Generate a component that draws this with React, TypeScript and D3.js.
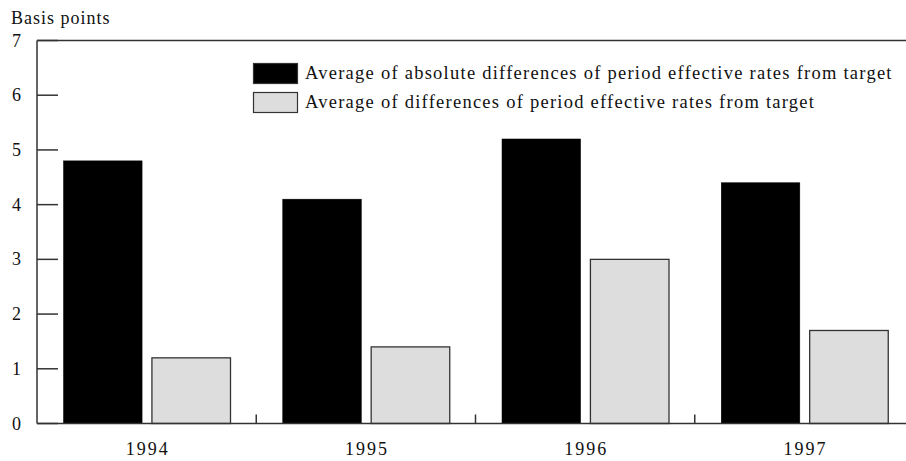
import React from "react";
import * as d3 from "d3";

const years = ["1994", "1995", "1996", "1997"];
const seriesNames = [
  "Average of absolute differences of period effective rates from target",
  "Average of differences of period effective rates from target",
];
const absDiff = [4.8, 4.1, 5.2, 4.4];
const diff = [1.2, 1.4, 3.0, 1.7];
const yTicks = [0, 1, 2, 3, 4, 5, 6, 7];
const yLabel = "Basis points";

const W = 906;
const H = 461;
const FONT = "'Liberation Serif', 'Times New Roman', serif";

export default function App() {
  const left = 37;
  const right = 914;
  const yBottom = 423.5;
  const yTop = 40.5;

  const x = d3.scaleBand<string>().domain(years).range([left, right]).paddingInner(0).paddingOuter(0);
  const xInner = d3.scaleBand<number>().domain([0, 1]).range([26, 194]).paddingInner(0.1);
  const y = d3.scaleLinear().domain([0, 7]).range([yBottom, yTop]);
  const seriesVals = [absDiff, diff];
  const fills = ["#000000", "#dddddd"];
  const strokes = ["#000000", "#333333"];

  return (
    <svg width={W} height={H} style={{ display: "block", position: "absolute", left: 0, top: 0 }} fontFamily={FONT}>
      <rect width={W} height={H} fill="#fff" />
      <text x={11} y={24} fontSize={18} letterSpacing={1} fill="#111">{yLabel}</text>
      {/* bars */}
      {years.map((yr, i) =>
        seriesVals.map((vals, s) => {
          const bx = (x(yr) as number) + (xInner(s) as number);
          const by = y(vals[i]);
          return (
            <rect
              key={yr + s}
              x={bx + 0.5}
              y={by}
              width={xInner.bandwidth() - 1}
              height={yBottom - by}
              fill={fills[s]}
              stroke={strokes[s]}
              strokeWidth={s === 1 ? 1.3 : 0.5}
            />
          );
        })
      )}
      {/* frame */}
      <line x1={left} x2={W} y1={yTop} y2={yTop} stroke="#333" strokeWidth={1.5} />
      <line x1={left} x2={W} y1={yBottom} y2={yBottom} stroke="#333" strokeWidth={1.5} />
      <line x1={left} x2={left} y1={yTop} y2={yBottom} stroke="#333" strokeWidth={1.5} />
      {/* y ticks */}
      {yTicks.map((t) => (
        <g key={t}>
          <line x1={left} x2={left + 21} y1={y(t)} y2={y(t)} stroke="#333" strokeWidth={1.5} />
          <text x={21} y={y(t) + 6} fontSize={18} textAnchor="end" fill="#111">{t}</text>
        </g>
      ))}
      {/* x ticks at boundaries */}
      {years.slice(1).map((yr) => (
        <line key={yr} x1={x(yr) as number} x2={x(yr) as number} y1={yBottom} y2={yBottom - 9} stroke="#333" strokeWidth={1.5} />
      ))}
      {years.map((yr) => (
        <text key={yr} x={(x(yr) as number) + x.bandwidth() / 2 + 1} y={455} fontSize={18} textAnchor="middle" fill="#111" letterSpacing={2}>
          {yr}
        </text>
      ))}
      {/* legend */}
      {seriesNames.map((nm, s) => (
        <g key={nm} transform={`translate(253, ${63 + s * 29})`}>
          <rect x={0.5} y={0.5} width={44} height={20} fill={fills[s]} stroke="#333" strokeWidth={1.2} />
          <text x={52} y={16} fontSize={18.5} letterSpacing={1.25} fill="#111">{nm}</text>
        </g>
      ))}
    </svg>
  );
}
